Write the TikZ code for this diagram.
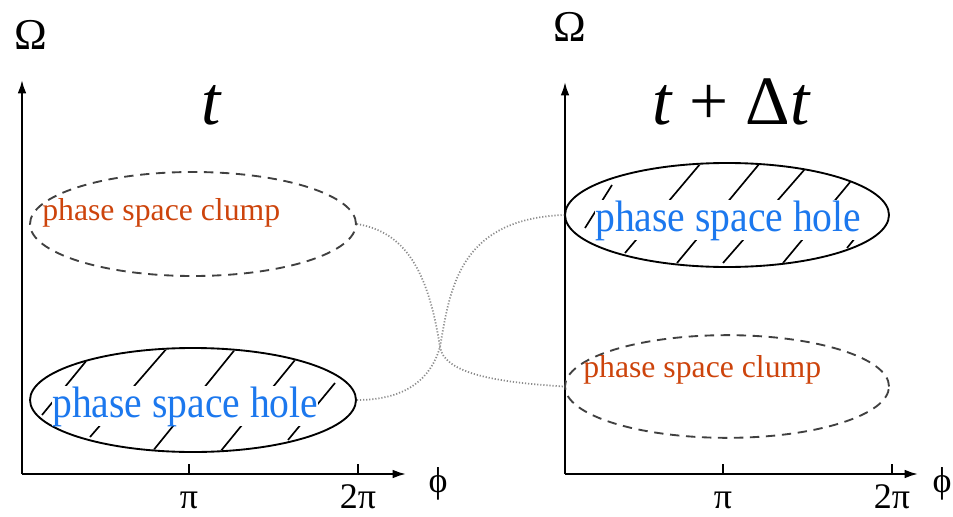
\documentclass[tikz,border=0pt]{standalone}
\usepackage{fontspec}
\setmainfont{Liberation Serif}
\usetikzlibrary{arrows.meta,shapes.geometric}
\definecolor{clumpcol}{RGB}{205,68,12}
\definecolor{holecol}{RGB}{28,120,238}
\definecolor{linkcol}{RGB}{140,140,140}
\begin{document}
\begin{tikzpicture}[x=0.75pt,y=-0.75pt,
  axis/.style={line width=1.5pt,-{Latex[length=10pt,width=6.5pt]}},
  tick/.style={line width=1.2pt},
  clumpell/.style={ellipse,draw=black!75,line width=1.4pt,dash pattern=on 7pt off 5pt,inner sep=0pt,minimum width=244.5pt,minimum height=78pt},
  holeell/.style={ellipse,draw=black,line width=1.4pt,inner sep=0pt,minimum width=244.5pt,minimum height=78pt},
  hatch/.style={line width=1.25pt,black},
  clumptxt/.style={text=clumpcol,font=\fontsize{23.8}{26}\selectfont,inner sep=0pt,anchor=base west},
  holetxt/.style={text=holecol,font=\fontsize{33}{36}\selectfont,inner sep=0pt,fill=white,anchor=base west,xscale=0.9},
  axlab/.style={font=\fontsize{27}{30}\selectfont,inner sep=0pt,anchor=base},
  title/.style={font=\fontsize{52}{56}\selectfont,inner sep=0pt,anchor=base},
  link/.style={linkcol,line width=1.3pt,dash pattern=on 0.9pt off 1.4pt}]
\useasboundingbox (0,0) rectangle (953,517);

% ---- left axes
\coordinate (oL) at (22,474);
\coordinate (yL) at (22,80);
\coordinate (xL) at (406,474);
\draw[axis] (oL) -- (yL);
\draw[axis] (oL) -- (xL);
\coordinate (tLa) at (189,474); \coordinate (tLb) at (358,474);
\draw[tick] (tLa) -- ++(0,-10);
\draw[tick] (tLb) -- ++(0,-10);
\node[axlab] (piL) at (189,508) {π};
\node[axlab] (twopiL) at (358,508) {2π};
\node[axlab] (phiL) at (438,492) {ϕ};
\node[axlab,font=\fontsize{33}{34}\selectfont] (omL) at (31,50) {Ω};
\node[title] (tL) at (211,124) {\itshape t};

% ---- right axes
\coordinate (oR) at (565,474);
\coordinate (yR) at (565,82);
\coordinate (xR) at (918,474);
\draw[axis] (oR) -- (yR);
\draw[axis] (oR) -- (xR);
\coordinate (tRa) at (723,474); \coordinate (tRb) at (892,474);
\draw[tick] (tRa) -- ++(0,-10);
\draw[tick] (tRb) -- ++(0,-10);
\node[axlab] (piR) at (723,508) {π};
\node[axlab] (twopiR) at (892,508) {2π};
\node[axlab] (phiR) at (942,492) {ϕ};
\node[axlab,font=\fontsize{33}{34}\selectfont] (omR) at (570,42) {Ω};
\node[title] (tR) at (731,124) {{\itshape t} + Δ{\itshape t}};

% ---- ellipses
\node[clumpell] (clumpL) at (193,224) {};
\node[holeell] (holeL) at (193,400) {};
\node[holeell,minimum width=243pt] (holeR) at (727,215) {};
\node[clumpell,minimum width=243pt,minimum height=77pt] (clumpR) at (727,386.5) {};

% ---- hatching left hole
\begin{scope}
\clip (holeL.center) ellipse [x radius=162, y radius=51];
\draw[hatch] (87,360) -- (42,415);
\draw[hatch] (168,347) -- (90,437);
\draw[hatch] (237,347) -- (152,452);
\draw[hatch] (295,360) -- (220,452);
\draw[hatch] (335,383) -- (288,440);
\end{scope}
% ---- hatching right hole
\begin{scope}
\clip (holeR.center) ellipse [x radius=161, y radius=51];
\draw[hatch] (612,185) -- (585,228);
\draw[hatch] (706,157) -- (625,253);
\draw[hatch] (765,157) -- (677,263);
\draw[hatch] (805,169) -- (723,263);
\draw[hatch] (851,181) -- (783,263);
\draw[hatch] (860,232) -- (847,248);
\end{scope}

% ---- labels
\node[clumptxt] (clumpLtxt) at (42,220) {phase space clump};
\node[holetxt] (holeLtxt) at (52,417) {phase space hole};
\node[holetxt] (holeRtxt) at (595,231) {phase space hole};
\node[clumptxt] (clumpRtxt) at (583,377) {phase space clump};

% ---- dotted links
\draw[link] (clumpL.east) .. controls (405,232) and (428,270) .. (440,347)
  .. controls (444,372) and (490,382) .. (clumpR.west);
\draw[link] (holeL.east) .. controls (410,400) and (432,375) .. (440,347)
  .. controls (450,290) and (458,219) .. (holeR.west);
\end{tikzpicture}
\end{document}
